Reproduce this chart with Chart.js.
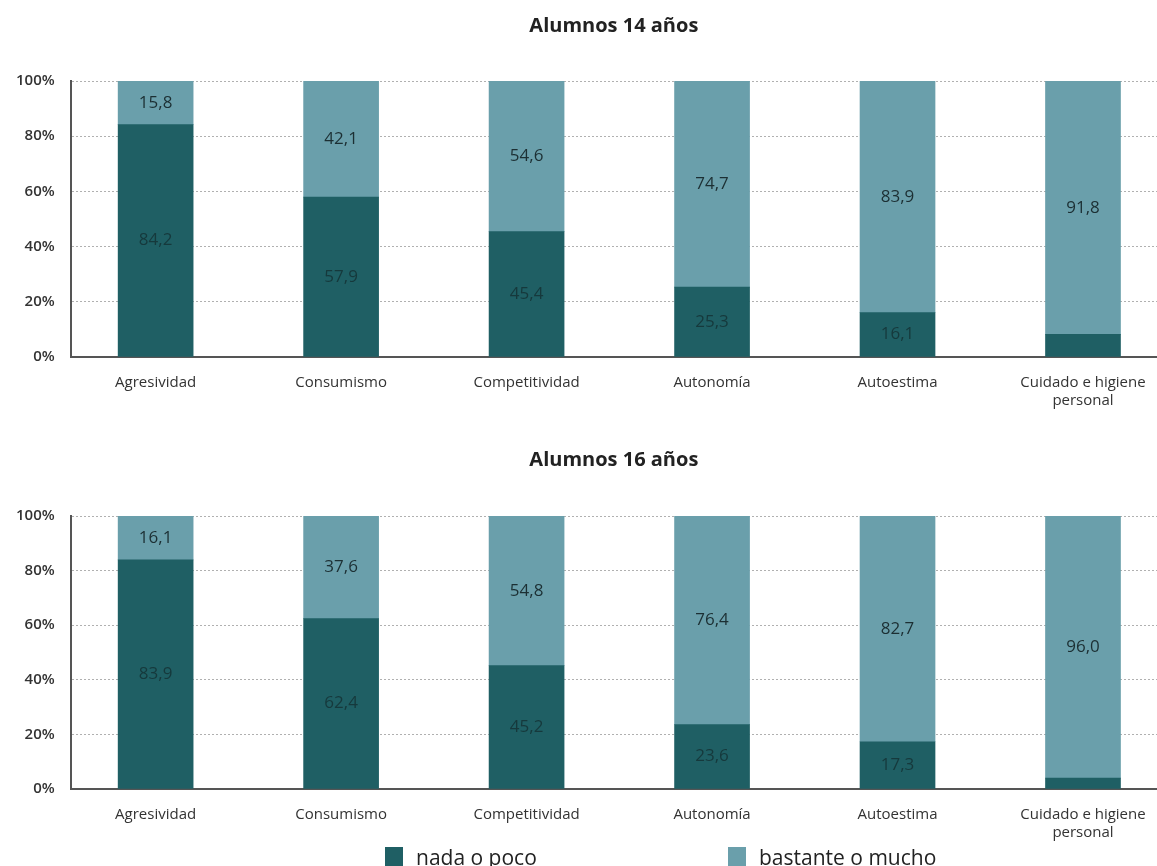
<!DOCTYPE html>
<html>
<head>
<meta charset="utf-8">
<script src="https://cdn.jsdelivr.net/npm/chart.js@4/dist/chart.umd.min.js"></script>
<style>
  html, body { margin: 0; padding: 0; background: #fff; }
  body { width: 1157px; height: 866px; position: relative; overflow: hidden; font-family: "Open Sans", "Noto Sans", sans-serif; }
  .box { position: absolute; left: 0; width: 1157px; }
  #b1 { top: 0; height: 419px; }
  #b2 { top: 434px; height: 417px; }
  .legend { position: absolute; top: 843px; font-size: 21px; color: #222; line-height: 28px; }
  .legend span.sw { position: absolute; left: 0; top: 4px; width: 18px; height: 24px; }
  .legend span.tx { position: absolute; left: 31px; top: 0; white-space: nowrap; }
</style>
</head>
<body>
<div class="box" id="b1"><canvas id="c1"></canvas></div>
<div class="box" id="b2"><canvas id="c2"></canvas></div>
<div class="legend" style="left:385px;"><span class="sw" style="background:#1f5f64"></span><span class="tx">nada o poco</span></div>
<div class="legend" style="left:728px;"><span class="sw" style="background:#6a9fab"></span><span class="tx">bastante o mucho</span></div>
<script>
const categories = ["Agresividad", "Consumismo", "Competitividad", "Autonomía", "Autoestima", ["Cuidado e higiene", "personal"]];
const seriesNames = ["nada o poco", "bastante o mucho"];
const titles = ["Alumnos 14 años", "Alumnos 16 años"];
const yTicks = [0, 20, 40, 60, 80, 100];

const nada14 = [84.2, 57.9, 45.4, 25.3, 16.1, 8.2];
const bastante14 = [15.8, 42.1, 54.6, 74.7, 83.9, 91.8];
const nada16 = [83.9, 62.4, 45.2, 23.6, 17.3, 4.0];
const bastante16 = [16.1, 37.6, 54.8, 76.4, 82.7, 96.0];

// which values carry a printed label
const showNada = [true, true, true, true, true, false];
const showBastante = [true, true, true, true, true, true];

const DARK = "#1f5f64";
const LIGHT = "#6a9fab";
const FONT = "'Open Sans', 'Noto Sans', sans-serif";

const labelPlugin = {
  id: "segLabels",
  afterDatasetsDraw(chart) {
    const ctx = chart.ctx;
    ctx.save();
    ctx.font = "17px " + FONT;
    ctx.textAlign = "center";
    ctx.textBaseline = "middle";
    chart.data.datasets.forEach((ds, di) => {
      const meta = chart.getDatasetMeta(di);
      meta.data.forEach((el, i) => {
        if (!ds.showLabel[i]) return;
        const v = ds.data[i].y;
        const txt = v.toFixed(1).replace(".", ",");
        ctx.fillStyle = di === 0 ? "#16393c" : "#1c2f33";
        ctx.fillText(txt, el.x, (el.y + el.base) / 2);
      });
    });
    ctx.restore();
  }
};

function makeChart(id, title, nada, bastante, padBottom) {
  const toPts = arr => arr.map((v, i) => ({ x: i, y: v }));
  return new Chart(document.getElementById(id), {
    type: "bar",
    data: {
      datasets: [
        { label: seriesNames[0], data: toPts(nada), backgroundColor: DARK, barThickness: 75, showLabel: showNada },
        { label: seriesNames[1], data: toPts(bastante), backgroundColor: LIGHT, barThickness: 75, showLabel: showBastante }
      ]
    },
    options: {
      responsive: true,
      maintainAspectRatio: false,
      animation: false,
      layout: { padding: { left: 0, right: 0, top: 0, bottom: 0 } },
      plugins: {
        legend: { display: false },
        tooltip: { enabled: false },
        title: {
          display: true,
          fullSize: false,
          text: title,
          color: "#222",
          font: { family: FONT, size: 20, weight: "bold" },
          padding: { top: 14, bottom: padBottom }
        }
      },
      scales: {
        x: {
          type: "linear",
          stacked: true,
          offset: false,
          min: -0.458,
          max: 5.399,
          afterBuildTicks: axis => { axis.ticks = categories.map((c, i) => ({ value: i })); },
          grid: { display: false },
          border: { display: true, color: "#555", width: 2 },
          ticks: {
            autoSkip: false,
            maxRotation: 0,
            padding: 9,
            color: "#333",
            font: { family: FONT, size: 15 },
            callback: (v) => categories[v]
          }
        },
        y: {
          stacked: true,
          min: 0,
          max: 100,
          afterBuildTicks: axis => { axis.ticks = yTicks.map(v => ({ value: v })); },
          grid: { color: "#b0b0b0", lineWidth: 1, drawTicks: false },
          border: { display: true, color: "#555", width: 2, dash: [2, 2] },
          ticks: {
            padding: 16,
            color: "#333",
            font: { family: FONT, size: 15, weight: "600" },
            callback: v => v + "%"
          }
        }
      }
    },
    plugins: [labelPlugin]
  });
}

Chart.defaults.font.family = FONT;
const ch1 = makeChart("c1", titles[0], nada14, bastante14, 43);
const ch2 = makeChart("c2", titles[1], nada16, bastante16, 44);
</script>
</body>
</html>
